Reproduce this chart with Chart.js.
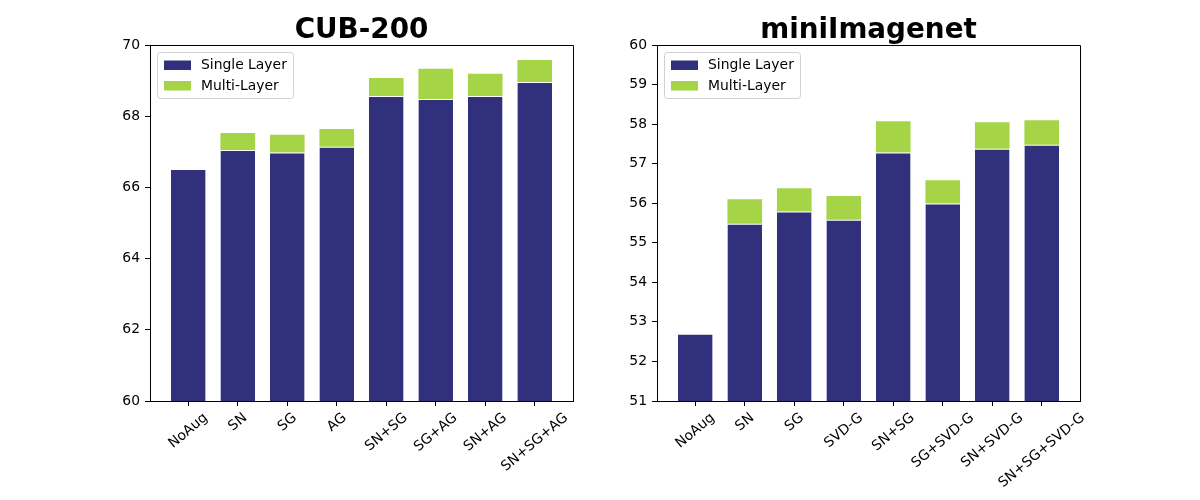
<!DOCTYPE html>
<html><head><meta charset="utf-8">
<script src="https://cdn.jsdelivr.net/npm/chart.js@4/dist/chart.umd.min.js"></script>
<style>
body{margin:0;background:#fff;width:1200px;height:500px;overflow:hidden;position:relative}
canvas{position:absolute;top:0}
</style></head>
<body>
<canvas id="c1" width="600" height="500" style="left:0px"></canvas>
<canvas id="c2" width="600" height="500" style="left:600px"></canvas>
<script>
// ---- data ----
const cubTitle = 'CUB-200';
const cubCategories = ['NoAug','SN','SG','AG','SN+SG','SG+AG','SN+AG','SN+SG+AG'];
const cubSingle = [66.52, 67.05, 66.98, 67.14, 68.57, 68.48, 68.57, 68.96];
const cubMulti  = [null, 67.53, 67.48, 67.64, 69.07, 69.33, 69.19, 69.58];
const cubTicks  = [60, 62, 64, 66, 68, 70];

const mininetTitle = 'miniImagenet';
const mininetCategories = ['NoAug','SN','SG','SVD-G','SN+SG','SG+SVD-G','SN+SVD-G','SN+SG+SVD-G'];
const mininetSingle = [52.7, 55.48, 55.79, 55.58, 57.28, 55.99, 57.38, 57.48];
const mininetMulti  = [null, 56.1, 56.38, 56.18, 58.07, 56.58, 58.05, 58.1];
const mininetTicks  = [51, 52, 53, 54, 55, 56, 57, 58, 59, 60];

const seriesNames = ['Single Layer', 'Multi-Layer'];

// ---- styling ----
const NAVY = '#31307d';
const GREEN = '#a5d446';
const FONT = "'DejaVu Sans', sans-serif";
const FS = 13.9;

const decoPlugin = {
  id: 'deco',
  afterDraw(chart, args, opts) {
    const ctx = chart.ctx;
    const a = chart.chartArea;
    ctx.save();
    // top and right spines
    ctx.strokeStyle = '#000';
    ctx.lineWidth = 1;
    ctx.beginPath();
    ctx.moveTo(Math.round(a.left) + 0.5, Math.round(a.top) + 0.5);
    ctx.lineTo(Math.round(a.right) + 0.5, Math.round(a.top) + 0.5);
    ctx.lineTo(Math.round(a.right) + 0.5, Math.round(a.bottom) + 0.5);
    ctx.stroke();

    // title
    ctx.fillStyle = '#000';
    ctx.font = "bold 27.8px " + FONT;
    ctx.textAlign = 'center';
    ctx.textBaseline = 'alphabetic';
    ctx.fillText(opts.title, (a.left + a.right) / 2, 37.5);

    // x tick labels, matplotlib style (rotation 40, centred bbox)
    const xs = chart.scales.x;
    ctx.font = FS + "px " + FONT;
    const rot = 40 * Math.PI / 180;
    const h = 0.97 * FS;
    const top = a.bottom + 9.7;
    opts.categories.forEach((lab, i) => {
      const px = xs.getPixelForValue(i);
      const w = ctx.measureText(lab).width;
      const bh = w * Math.sin(rot) + h * Math.cos(rot);
      const cy = top + bh / 2;
      ctx.save();
      ctx.translate(px, cy);
      ctx.rotate(-rot);
      ctx.textAlign = 'center';
      ctx.textBaseline = 'alphabetic';
      ctx.fillText(lab, 0, 0.76 * FS - h / 2);
      ctx.restore();
    });

    // legend inside top-left
    const lx = a.left + 7, ly = a.top + 7, lw = 136, lh = 46;
    ctx.beginPath();
    if (ctx.roundRect) ctx.roundRect(lx + 0.5, ly + 0.5, lw, lh, 3);
    else ctx.rect(lx + 0.5, ly + 0.5, lw, lh);
    ctx.fillStyle = 'rgba(255,255,255,0.8)';
    ctx.fill();
    ctx.strokeStyle = '#d0d0d0';
    ctx.lineWidth = 1;
    ctx.stroke();
    chart.data.datasets.forEach((ds, i) => {
      const cy = ly + 13 + i * 20.5;
      ctx.fillStyle = ds.backgroundColor;
      ctx.fillRect(lx + 7, cy - 4.5, 27, 9.5);
      ctx.fillStyle = '#000';
      ctx.font = FS + "px " + FONT;
      ctx.textAlign = 'left';
      ctx.textBaseline = 'middle';
      ctx.fillText(ds.label, lx + 44, cy + 0.5);
    });
    ctx.restore();
  }
};

function build(canvasId, title, cats, single, multi, ticks, padL, padR) {
  const delta = multi.map((m, i) => (m === null ? null : +(m - single[i]).toFixed(3)));
  const mk = arr => arr.map((v, i) => ({ x: i, y: v }));
  const n = cats.length;
  new Chart(document.getElementById(canvasId), {
    type: 'bar',
    data: {
      datasets: [
        { label: seriesNames[0], data: mk(single), backgroundColor: NAVY,
          borderColor: '#ffffff', borderWidth: { top: 1, left: 0, right: 0, bottom: 0 }, borderSkipped: false },
        { label: seriesNames[1], data: mk(delta), backgroundColor: GREEN,
          borderColor: '#ffffff', borderWidth: 0 }
      ]
    },
    options: {
      responsive: false,
      animation: false,
      devicePixelRatio: 1,
      categoryPercentage: 1,
      barPercentage: 0.7,
      layout: { padding: { left: padL, right: padR, top: 45, bottom: 0 } },
      plugins: { legend: { display: false }, tooltip: { enabled: false }, title: { display: false },
        deco: { title: title, categories: cats } },
      scales: {
        x: {
          type: 'linear', stacked: true, offset: false,
          min: -0.35 - 0.055 * (n - 1 + 0.7), max: n - 1 + 0.35 + 0.055 * (n - 1 + 0.7),
          afterBuildTicks: s => { s.ticks = cats.map((c, i) => ({ value: i })); },
          afterFit: s => { s.height = 99; },
          ticks: { display: false },
          grid: { display: true, offset: false, drawOnChartArea: false, drawTicks: true, tickLength: 5, color: '#000', lineWidth: 1 },
          border: { display: true, color: '#000', width: 1 }
        },
        y: {
          type: 'linear', stacked: true,
          min: ticks[0], max: ticks[ticks.length - 1],
          afterBuildTicks: s => { s.ticks = ticks.map(v => ({ value: v })); },
          afterFit: s => { s.width = 50; },
          ticks: { color: '#000', font: { family: FONT, size: FS }, padding: 5 },
          grid: { display: true, drawOnChartArea: false, drawTicks: true, tickLength: 5, color: '#000', lineWidth: 1 },
          border: { display: true, color: '#000', width: 1 }
        }
      }
    },
    plugins: [decoPlugin]
  });
}

build('c1', cubTitle, cubCategories, cubSingle, cubMulti, cubTicks, 100, 27);
build('c2', mininetTitle, mininetCategories, mininetSingle, mininetMulti, mininetTicks, 7, 120);
</script>
</body></html>
